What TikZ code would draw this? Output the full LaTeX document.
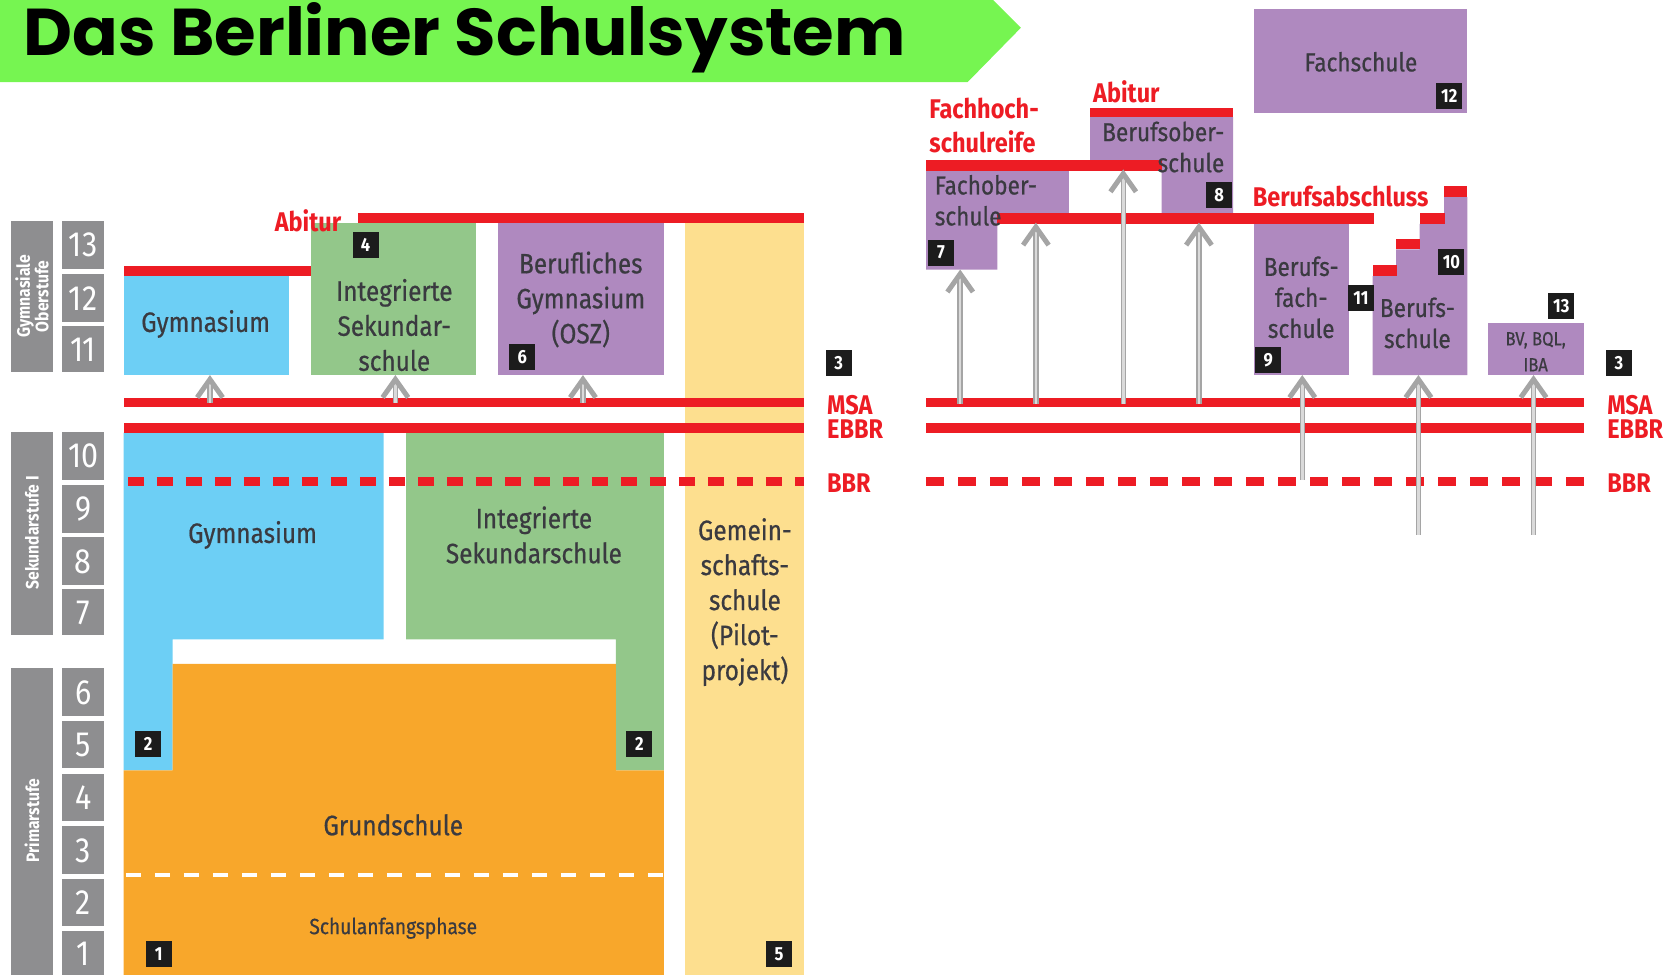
\documentclass[tikz,border=0pt]{standalone}
\usepackage{fontspec}
\setmainfont{Fira Sans}
\newfontfamily\cond[FakeStretch=0.87]{Fira Sans}
\newfontfamily\condm[FakeStretch=0.87,FakeBold=0.6]{Fira Sans}
\newfontfamily\titlef{Poppins}
\usetikzlibrary{calc}
\definecolor{cblue}{HTML}{6DCFF5}
\definecolor{cgreen}{HTML}{93C78A}
\definecolor{cpurple}{HTML}{AF89BF}
\definecolor{corange}{HTML}{F8A72B}
\definecolor{cyellow}{HTML}{FDDF8F}
\definecolor{cred}{HTML}{ED1C24}
\definecolor{cgray}{HTML}{8E8E90}
\definecolor{ctext}{HTML}{3A3A40}
\definecolor{cbanner}{HTML}{76F551}
\definecolor{carrow}{HTML}{A5A5A5}
\definecolor{carrowin}{HTML}{DADADA}
\definecolor{cbadge}{HTML}{1C1C1C}
\newcommand\myuparrow[2]{%
  \draw[shaft] (#1) -- (#2);
  \draw[chev] ($(#2)+(-12,17)$) -- (#2) -- ($(#2)+(12,17)$);
}
\begin{document}
\begin{tikzpicture}[x=1.0657pt,y=-1.0657pt,
  boxtxt/.style={font=\condm\fontsize{28}{35}\selectfont, text=ctext, align=center, inner sep=0},
  boxtxtR/.style={font=\condm\fontsize{26}{31}\selectfont, text=ctext, inner sep=0},
  redlbl/.style={font=\cond\bfseries\fontsize{27}{34}\selectfont, text=cred, inner sep=0},
  sidelbl/.style={font=\cond\bfseries\fontsize{27}{24}\selectfont, text=cred, inner sep=0, anchor=west},
  badge/.style={fill=cbadge, text=white, font=\cond\bfseries\fontsize{19}{19}\selectfont, minimum size=26pt, inner sep=0},
  grade/.style={text=white, font=\cond\fontsize{35}{35}\selectfont, inner sep=0},
  stage/.style={text=white, font=\cond\bfseries\fontsize{18}{17}\selectfont, rotate=90, align=center, inner sep=0},
  shaft/.style={draw=carrow, double=carrowin, line width=1.5pt, double distance=2.5pt},
  chev/.style={draw=carrow, line width=5pt, line cap=butt, line join=miter},
  dashbar/.style={draw=cred, line width=9pt, dash pattern=on 16pt off 13pt},
  dashbarR/.style={draw=cred, line width=9pt, dash pattern=on 18pt off 14pt}
]
\useasboundingbox (0,0) rectangle (1568,914);

% ---------- title ----------
\fill[cbanner] (0,-2) -- (930,-2) -- (958,26) -- (908,77) -- (0,77) -- cycle;
\node[anchor=base west, inner sep=0] (title) at (22,52)
  {\resizebox{882pt}{53pt}{\titlef\bfseries Das Berliner Schulsystem}};

% ---------- stage labels and grades ----------
\fill[cgray] (10,207) rectangle (50,349);
\fill[cgray] (10,405) rectangle (50,596);
\fill[cgray] (10,627) rectangle (50,916);
\node[stage] (st1) at (30,278) {Gymnasiale\\Oberstufe};
\node[stage] (st2) at (30,500) {Sekundarstufe I};
\node[stage] (st3) at (30,770) {Primarstufe};
\foreach \n/\a/\b/\c in {13/207/252/230,12/257/302/280,11/306/349/328,10/405/450/428,9/455/500/478,8/504/549/527,7/553/596/575,6/627/672/650,5/677/721/699,4/726/770/748,3/775/820/798,2/825/869/847,1/874/916/895}
{
  \fill[cgray] (58,\a) rectangle (98,\b);
  \node[grade] (g\n) at (78,\c) {\n};
}

% ---------- left block ----------
\fill[cyellow] (643,208) rectangle (754,916);
\fill[cblue] (116,259) rectangle (271,352);
\node[boxtxt] (gymO) at (193,304) {Gymnasium};
\fill[cred] (116,249.5) rectangle (336,259);
\fill[cgreen] (292,209) rectangle (447,352);
\node[boxtxt] (issO) at (370,305) {Integrierte\\Sekundar-\\schule};
\fill[cpurple] (467,209) rectangle (623,352);
\node[boxtxt] (bg) at (545,281) {Berufliches\\Gymnasium\\(OSZ)};
\fill[cred] (336,200) rectangle (754,209);
\node[redlbl] (abiL) at (289,207) {Abitur};

\fill[cblue] (116,406) -- (360,406) -- (360,600) -- (162,600) -- (162,723) -- (116,723) -- cycle;
\fill[cgreen] (381,406) -- (623,406) -- (623,723) -- (578,723) -- (578,600) -- (381,600) -- cycle;
\fill[corange] (162,623) -- (578,623) -- (578,723) -- (623,723) -- (623,916) -- (116,916) -- (116,723) -- (162,723) -- cycle;
\draw[white, line width=3.5pt, dash pattern=on 15pt off 14pt] (118,821) -- (623,821);

\fill[cred] (116,373) rectangle (754,382);
\fill[cred] (116,397) rectangle (754,406.5);
\draw[dashbar] (120,451.5) -- (754,451.5);

\node[boxtxt] (gymU) at (237,502) {Gymnasium};
\node[boxtxt] (issU) at (501,502) {Integrierte\\Sekundarschule};
\node[boxtxt] (gem) at (699,565) {Gemein-\\schafts-\\schule\\(Pilot-\\projekt)};
\node[boxtxt] (grund) at (369,774) {Grundschule};
\node[boxtxt, font=\condm\fontsize{22}{24}\selectfont] (sap) at (369,871) {Schulanfangsphase};

\node[sidelbl] (msaL) at (776,380) {MSA};
\node[sidelbl] (ebbrL) at (776,403) {EBBR};
\node[sidelbl] (bbrL) at (776,453) {BBR};

\node[badge] (b4) at (343,230) {4};
\node[badge] (b6) at (490,335) {6};
\node[badge] (b3L) at (787,341) {3};
\node[badge] (b2a) at (139,698) {2};
\node[badge] (b2b) at (600,698) {2};
\node[badge] (b1) at (149,895) {1};
\node[badge] (b5) at (731,895) {5};

\coordinate (la1s) at (197,378); \coordinate (la1t) at (197,356);
\coordinate (la2s) at (371,378); \coordinate (la2t) at (371,356);
\coordinate (la3s) at (547,378); \coordinate (la3t) at (547,356);
\myuparrow{la1s}{la1t}
\myuparrow{la2s}{la2t}
\myuparrow{la3s}{la3t}

% ---------- right block ----------
\fill[cpurple] (1177,8) rectangle (1377,106);
\node[boxtxtR] (fachs) at (1277,58) {Fachschule};

\fill[cpurple] (869,160) -- (1003,160) -- (1003,200) -- (936,200) -- (936,253) -- (869,253) -- cycle;
\fill[cpurple] (1023,110) -- (1157,110) -- (1157,200) -- (1090,200) -- (1090,150) -- (1023,150) -- cycle;
\fill[cred] (869,150) rectangle (1090,160);
\fill[cred] (1023,101) rectangle (1157,110);
\fill[cred] (936,200) rectangle (1289,210.5);
\fill[cpurple] (1177,210.5) rectangle (1266,352);
\fill[cpurple] (1288,352) -- (1288,259) -- (1310,259) -- (1310,234) -- (1332,234) -- (1332,210) -- (1355,210) -- (1355,185) -- (1377,185) -- (1377,352) -- cycle;
\fill[cred] (1288,249) rectangle (1310.5,259);
\fill[cred] (1310,224) rectangle (1332.5,234);
\fill[cred] (1332,200) rectangle (1355.5,210);
\fill[cred] (1355,175) rectangle (1377,185);
\fill[cpurple] (1396,303) rectangle (1486,352);

\node[redlbl, anchor=west, align=left] (fhr) at (872,118) {Fachhoch-\\schulreife};
\node[redlbl] (abiR) at (1057,86) {Abitur};
\node[redlbl] (bab) at (1258,184) {Berufsabschluss};

\node[boxtxtR, anchor=west, align=left] (fos) at (877,188) {Fachober-\\schule};
\node[boxtxtR, anchor=east, align=right] (bos) at (1149,138) {Berufsober-\\schule};
\node[boxtxtR, align=center] (bfs) at (1221,279) {Berufs-\\fach-\\schule};
\node[boxtxtR, align=center] (bs) at (1330,303) {Berufs-\\schule};
\node[boxtxtR, align=center, font=\condm\fontsize{19}{26}\selectfont] (bv) at (1441,330) {BV, BQL,\\IBA};

\fill[cred] (869,373) rectangle (1486,382);
\fill[cred] (869,397) rectangle (1486,406.5);
\draw[dashbarR] (869,451.5) -- (1486,451.5);

\node[sidelbl] (msaR) at (1508,380) {MSA};
\node[sidelbl] (ebbrR) at (1508,403) {EBBR};
\node[sidelbl] (bbrR) at (1508,453) {BBR};

\node[badge] (b7) at (883,237) {7};
\node[badge] (b8) at (1144,183) {8};
\node[badge] (b9) at (1190,338) {9};
\node[badge] (b11) at (1277,280) {11};
\node[badge] (b10) at (1362,246) {10};
\node[badge] (b12) at (1360,90) {12};
\node[badge] (b13) at (1465,287) {13};
\node[badge] (b3R) at (1519,341) {3};

\coordinate (ra1s) at (901,379); \coordinate (ra1t) at (901,257);
\coordinate (ra2s) at (972,379); \coordinate (ra2t) at (972,213);
\coordinate (ra3s) at (1054,379); \coordinate (ra3t) at (1054,163);
\coordinate (ra4s) at (1125,379); \coordinate (ra4t) at (1125,213);
\coordinate (ra5s) at (1222,450); \coordinate (ra5t) at (1222,356);
\coordinate (ra6s) at (1331,502); \coordinate (ra6t) at (1331,356);
\coordinate (ra7s) at (1439,502); \coordinate (ra7t) at (1439,356);
\myuparrow{ra1s}{ra1t}
\myuparrow{ra2s}{ra2t}
\myuparrow{ra3s}{ra3t}
\myuparrow{ra4s}{ra4t}
\myuparrow{ra5s}{ra5t}
\myuparrow{ra6s}{ra6t}
\myuparrow{ra7s}{ra7t}
\end{tikzpicture}
\end{document}
